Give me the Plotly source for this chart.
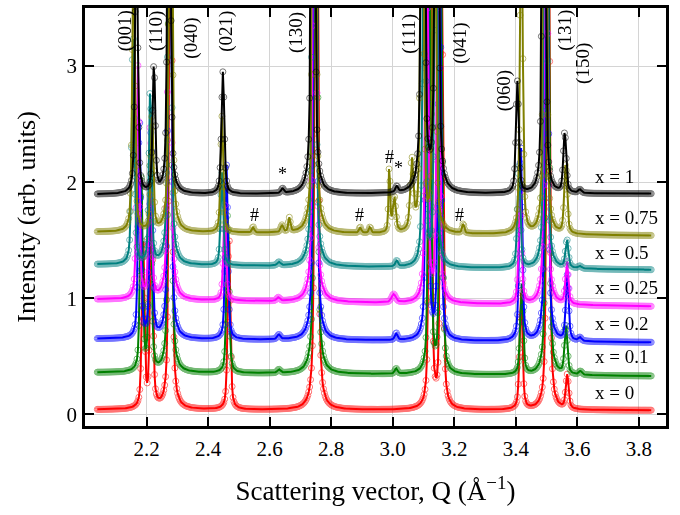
import numpy as np
import plotly.graph_objects as go

# Q sampling of the measured patterns (Å^-1)
Q_MIN, Q_MAX, Q_STEP = 2.04, 3.84, 0.003

compositions = ["x = 0", "x = 0.1", "x = 0.2", "x = 0.25", "x = 0.5", "x = 0.75", "x = 1"]
colors = ["#ff0000", "#008000", "#0000ff", "#ff00ff", "#008080", "#808000", "#000000"]

# background level (including vertical offset) at the low- and high-Q ends
background_low = [0.04, 0.36, 0.65, 0.99, 1.29, 1.57, 1.895]
background_high = [0.035, 0.33, 0.62, 0.93, 1.245, 1.54, 1.90]

# Bragg peaks of each pattern: (Q, height above background, HWHM)
peaks_x0 = [
    (2.189, 1.45, 0.005), (2.216, 2.0, 0.005), (2.278, 6.0, 0.005),
    (2.468, 1.5, 0.005), (2.752, 8.0, 0.005), (3.122, 4.0, 0.005),
    (3.159, 4.0, 0.005), (3.417, 1.0, 0.0055), (3.505, 6.0, 0.005),
    (3.567, 0.29, 0.0055),
]
peaks_x01 = [
    (2.183, 1.7, 0.005), (2.212, 1.8, 0.005), (2.276, 6.0, 0.005),
    (2.464, 1.4, 0.005), (2.630, 0.03, 0.006), (2.750, 8.0, 0.005),
    (3.011, 0.045, 0.005), (3.120, 3.6, 0.005), (3.157, 3.6, 0.005),
    (3.419, 0.8, 0.0055), (3.503, 6.0, 0.005), (3.563, 0.42, 0.0055),
    (3.610, 0.03, 0.006),
]
peaks_x02 = [
    (2.177, 1.9, 0.005), (2.215, 1.8, 0.005), (2.275, 6.0, 0.005),
    (2.460, 1.5, 0.005), (2.630, 0.04, 0.006), (2.748, 8.0, 0.005),
    (3.011, 0.06, 0.005), (3.112, 4.0, 0.005), (3.152, 4.0, 0.005),
    (3.416, 1.7, 0.0055), (3.500, 6.0, 0.005), (3.567, 0.56, 0.0055),
    (3.608, 0.03, 0.006),
]
peaks_x025 = [
    (2.172, 2.0, 0.005), (2.212, 1.5, 0.005), (2.275, 6.0, 0.005),
    (2.454, 0.82, 0.005), (2.628, 0.03, 0.006), (2.746, 8.0, 0.005),
    (3.003, 0.07, 0.008), (3.110, 4.0, 0.005), (3.148, 4.0, 0.005),
    (3.414, 0.96, 0.0055), (3.498, 6.0, 0.005), (3.566, 0.37, 0.0055),
]
peaks_x05 = [
    (2.156, 2.0, 0.005), (2.212, 1.5, 0.005), (2.275, 6.0, 0.005),
    (2.445, 0.8, 0.005), (2.630, 0.03, 0.006), (2.744, 8.0, 0.005),
    (3.013, 0.05, 0.005), (3.102, 4.0, 0.005), (3.140, 4.0, 0.005),
    (3.410, 0.9, 0.0055), (3.497, 6.0, 0.005), (3.566, 0.24, 0.0055),
    (3.608, 0.02, 0.006),
]
peaks_x075 = [
    (2.158, 2.5, 0.005), (2.218, 1.0, 0.005), (2.278, 6.0, 0.005),
    (2.445, 1.0, 0.005), (2.546, 0.05, 0.004), (2.640, 0.06, 0.005),
    (2.664, 0.12, 0.004), (2.745, 8.0, 0.005), (2.894, 0.05, 0.004),
    (2.926, 0.05, 0.004), (2.989, 0.58, 0.003), (3.005, 0.30, 0.006),
    (3.062, 0.60, 0.006), (3.095, 5.0, 0.005), (3.135, 5.0, 0.005),
    (3.229, 0.08, 0.004), (3.418, 3.0, 0.005), (3.495, 6.0, 0.005),
    (3.562, 0.60, 0.0055),
]
peaks_x1 = [
    (2.167, 2.5, 0.005), (2.224, 1.1, 0.005), (2.273, 5.0, 0.005),
    (2.448, 1.05, 0.0055), (2.642, 0.04, 0.005), (2.741, 8.0, 0.005),
    (3.013, 0.05, 0.005), (3.098, 8.0, 0.005), (3.143, 8.0, 0.005),
    (3.405, 0.96, 0.0055), (3.491, 6.0, 0.005), (3.559, 0.52, 0.0055),
    (3.608, 0.03, 0.006),
]
peak_tables = [peaks_x0, peaks_x01, peaks_x02, peaks_x025, peaks_x05, peaks_x075, peaks_x1]

# Miller indices marked above the patterns: (label, Q, intensity)
reflections = [
    ("(001)", 2.130, 3.30), ("(110)", 2.230, 3.30), ("(040)", 2.346, 3.24),
    ("(021)", 2.460, 3.30), ("(130)", 2.688, 3.29), ("(111)", 3.050, 3.28),
    ("(041)", 3.218, 3.20), ("(060)", 3.364, 2.79), ("(131)", 3.559, 3.31),
    ("(150)", 3.619, 3.02),
]
# impurity (#) and secondary-phase (*) markers: (symbol, Q, intensity)
impurity_marks = [
    ("*", 2.643, 2.07), ("#", 2.988, 2.22), ("*", 3.018, 2.12),
    ("#", 2.552, 1.72), ("#", 2.893, 1.72), ("#", 3.218, 1.72),
]
# composition labels: (Q of left edge, intensity)
label_pos = [(3.652, 0.185), (3.652, 0.497), (3.652, 0.787), (3.652, 1.089),
             (3.652, 1.392), (3.652, 1.697), (3.652, 2.046)]

ETA = 0.5  # Lorentzian fraction of the pseudo-Voigt profile


def pattern(q, table, b_lo, b_hi):
    """Background plus pseudo-Voigt peaks."""
    y = b_lo + (b_hi - b_lo) * (q - Q_MIN) / (Q_MAX - Q_MIN)
    for q0, h, w in table:
        u = (q - q0) / w
        y = y + h * (ETA / (1.0 + u * u) + (1.0 - ETA) * np.exp(-np.log(2.0) * u * u))
    return y


q = np.arange(Q_MIN, Q_MAX + Q_STEP / 2, Q_STEP)

fig = go.Figure()
for name, col, table, b_lo, b_hi in zip(compositions, colors, peak_tables,
                                        background_low, background_high):
    y = pattern(q, table, b_lo, b_hi)
    fig.add_trace(go.Scatter(
        x=q, y=y, mode="markers", name=name + " data",
        marker=dict(symbol="circle-open", size=6, color=col, line=dict(width=1)),
        opacity=0.55, cliponaxis=True, hoverinfo="skip",
    ))
    fig.add_trace(go.Scatter(
        x=q, y=y, mode="lines", name=name,
        line=dict(color=col, width=2), cliponaxis=True,
    ))

SERIF = "Liberation Serif, Times New Roman, serif"

for txt, qx, iy in reflections:
    fig.add_annotation(x=qx, y=iy, text=txt, textangle=-90, showarrow=False,
                       font=dict(family=SERIF, size=19, color="black"))
for txt, qx, iy in impurity_marks:
    fig.add_annotation(x=qx, y=iy, text=txt, showarrow=False,
                       font=dict(family=SERIF, size=18, color="black"))
for name, (qx, iy) in zip(compositions, label_pos):
    fig.add_annotation(x=qx, y=iy, text=name, showarrow=False, xanchor="left",
                       font=dict(family=SERIF, size=19, color="black"))

axis_common = dict(
    ticks="inside", ticklen=9, tickwidth=2, tickcolor="black",
    showline=True, linewidth=2.5, linecolor="black", mirror="ticks",
    showgrid=True, gridcolor="#d4d4d4", gridwidth=1, zeroline=False,
    tickfont=dict(family=SERIF, size=21, color="black"),
)

xticks = [2.2, 2.4, 2.6, 2.8, 3.0, 3.2, 3.4, 3.6, 3.8]
fig.update_xaxes(
    range=[2.0, 3.888], tickvals=xticks, ticktext=[f"{v:.1f}" for v in xticks],
    ticklabelstandoff=2,
    title=dict(text="Scattering vector, Q (Å<sup>−1</sup>)",
               font=dict(family=SERIF, size=27, color="black"), standoff=22),
    **axis_common,
)
fig.update_yaxes(
    range=[-0.1, 3.5], tickvals=[0, 1, 2, 3], ticktext=["0", "1", "2", "3"],
    ticklabelstandoff=1,
    title=dict(text="Intensity (arb. units)",
               font=dict(family=SERIF, size=26, color="black"), standoff=24),
    **axis_common,
)

fig.update_layout(
    width=680, height=515,
    margin=dict(l=85, r=14, t=5, b=89),
    paper_bgcolor="white", plot_bgcolor="white",
    showlegend=False,
    font=dict(family=SERIF, color="black"),
)

fig.write_html("out.html")
